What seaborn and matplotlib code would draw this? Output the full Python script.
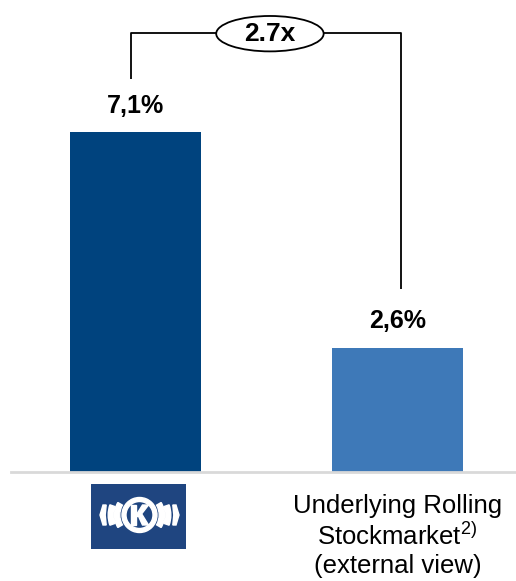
import matplotlib
matplotlib.use("Agg")
import matplotlib.pyplot as plt
import seaborn as sns
import pandas as pd
from matplotlib.patches import Ellipse, Wedge, Rectangle, Polygon

categories = ["Knorr-Bremse", "Underlying Rolling Stockmarket"]
values = [7.1, 2.6]
value_labels = ["7,1%", "2,6%"]
tick_labels = ["", "Underlying Rolling\nStockmarket$^{2)}$\n(external view)"]
ratio_label = "2.7x"
colors = ["#00437E", "#3E79B8"]

sns.set_theme(style="white")
plt.rcParams["font.family"] = ["Liberation Sans", "DejaVu Sans"]
plt.rcParams["mathtext.fontset"] = "custom"
plt.rcParams["mathtext.rm"] = "Liberation Sans"
plt.rcParams["mathtext.default"] = "regular"

W, H = 516, 581
fig = plt.figure(figsize=(W / 100, H / 100), dpi=100)
ax = fig.add_axes([11 / W, 109 / H, 505 / W, 472 / H])

df = pd.DataFrame({"cat": categories, "val": values})
sns.barplot(data=df, x="cat", y="val", hue="cat", palette=colors,
            width=0.5, ax=ax, legend=False, saturation=1, linewidth=0)

ax.set_xlim(-0.475, 1.452)
ax.set_ylim(0, 9.864)
ax.set_xlabel("")
ax.set_ylabel("")
ax.set_yticks([])
ax.set_xticks(range(len(categories)))
ax.set_xticklabels(tick_labels, fontsize=18.5)
ax.tick_params(axis="x", length=0, pad=16, colors="black")
for s in ["top", "right", "left"]:
    ax.spines[s].set_visible(False)
ax.spines["bottom"].set_color("#D9D9D9")
ax.spines["bottom"].set_linewidth(2)

for i, (v, lab) in enumerate(zip(values, value_labels)):
    ax.text(i, v + 0.55, lab, ha="center", va="center", fontsize=18,
            fontweight="bold", color="black")

# bracket
ytop = 9.18
xl, xr = -0.017, 1.013
ex, ew, eh = 0.513, 0.41, 0.74
lkw = dict(color="black", lw=1.3, solid_capstyle="butt")
ax.plot([xl, xl, ex - ew / 2], [values[0] + 1.12, ytop, ytop], **lkw)
ax.plot([ex + ew / 2, xr, xr], [ytop, ytop, values[1] + 1.22], **lkw)
ax.add_patch(Ellipse((ex, ytop - 0.02), ew, eh, fill=False, ec="black", lw=1.3))
ax.text(ex, ytop - 0.02, ratio_label, ha="center", va="center", fontsize=19,
        fontweight="bold", color="black")

# logo
lax = fig.add_axes([91 / W, (H - 549) / H, 95 / W, 65 / H])
lax.set_xlim(0, 95)
lax.set_ylim(0, 65)
lax.axis("off")
lax.add_patch(Rectangle((0, 0), 95, 65, color="#1F4580"))
cx, cy = 48.5, 34
lax.add_patch(Wedge((cx, cy), 17.5, 0, 360, width=4, color="white"))
lax.add_patch(Rectangle((cx - 9, cy - 10), 5, 20, color="white"))
lax.add_patch(Polygon([(cx - 4.5, cy - 2), (cx + 3, cy + 10), (cx + 9, cy + 10),
                       (cx + 0.5, cy - 1)], color="white"))
lax.add_patch(Polygon([(cx - 2, cy + 1), (cx + 3, cy - 10), (cx + 9, cy - 10),
                       (cx + 2.5, cy + 0.5)], color="white"))
for side in (-1, 1):
    if side < 0:
        t1, t2 = 180 - 30, 180 + 30
        t3, t4 = 180 - 19, 180 + 19
    else:
        t1, t2 = -30, 30
        t3, t4 = -19, 19
    lax.add_patch(Wedge((cx, cy), 25, t1, t2, width=5.3, color="white"))
    lax.add_patch(Wedge((cx, cy), 31.3, t3, t4, width=5.6, color="white"))
    base = [(33.3, 10), (36.5, 10), (39.5, 0), (36.5, -10), (33.3, -10), (34.3, 0)]
    pts = [(cx + side * dx, cy + dy) for dx, dy in base]
    lax.add_patch(Polygon(pts, color="white"))

fig.savefig("out.png", dpi=100)
